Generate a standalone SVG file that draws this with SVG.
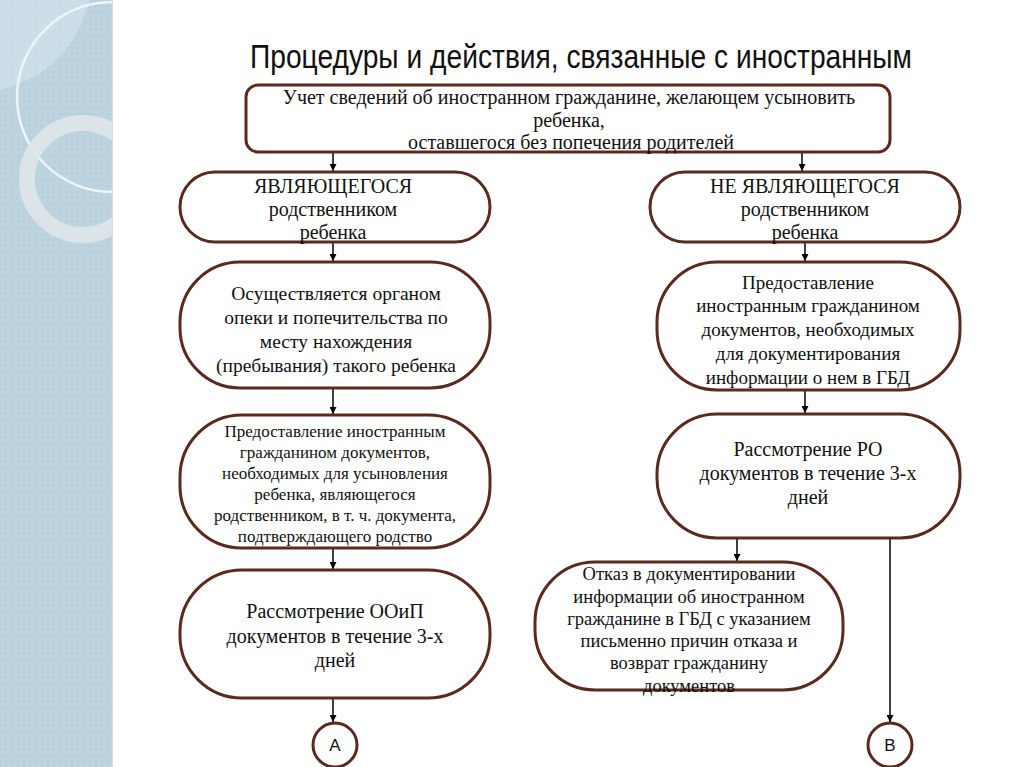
<svg xmlns="http://www.w3.org/2000/svg" width="1024" height="767" viewBox="0 0 1024 767">
<defs>
<style>
.node{fill:#fff;stroke:#5a2a1e;stroke-width:3}
.t{font-family:"Liberation Serif","Times New Roman",serif;fill:#111;text-anchor:middle}
.s{font-family:"Liberation Sans",Arial,sans-serif;fill:#111;text-anchor:middle}
.c{stroke:#000;stroke-width:1.5;fill:none;marker-end:url(#ah)}
</style>
<marker id="ah" viewBox="0 0 10 10" refX="10" refY="5" markerWidth="7" markerHeight="7" markerUnits="userSpaceOnUse" orient="auto"><path d="M0,0 L10,5 L0,10 Z" fill="#000"/></marker>
<clipPath id="panel"><rect x="0" y="0" width="112" height="767"/></clipPath>
<pattern id="dots" width="6" height="6" patternUnits="userSpaceOnUse"><circle cx="3" cy="3" r="1.6" fill="none" stroke="#c7dbe5" stroke-width="0.7"/></pattern>
</defs>
<rect width="1024" height="767" fill="#fff"/>
<g id="panel-bg" clip-path="url(#panel)">
<rect x="0" y="0" width="112" height="767" fill="#b8d1dd"/>
<rect x="0" y="0" width="112" height="767" fill="url(#dots)"/>
<path d="M0,0 L90,0 Q70,72 0,90 Z" fill="#fff" opacity="0.25"/>
<circle cx="112" cy="97" r="95" fill="none" stroke="#eef5f8" stroke-width="2.5"/>
<circle cx="83" cy="179" r="56" fill="none" stroke="#dfe6ea" stroke-width="16" opacity="0.9"/>
</g>
<line x1="112.5" y1="0" x2="112.5" y2="767" stroke="#d8dde0" stroke-width="1"/>
<text class="s" x="581" y="68" font-size="33" textLength="662" lengthAdjust="spacingAndGlyphs">Процедуры и действия, связанные с иностранным</text>
<g id="connectors">
<line class="c" x1="333" y1="152" x2="333" y2="171"/>
<line class="c" x1="802" y1="152" x2="802" y2="171"/>
<line class="c" x1="333" y1="242" x2="333" y2="261"/>
<line class="c" x1="805" y1="242" x2="805" y2="261"/>
<line class="c" x1="333" y1="388" x2="333" y2="414"/>
<line class="c" x1="805" y1="390" x2="805" y2="413"/>
<line class="c" x1="333" y1="548" x2="333" y2="569"/>
<line class="c" x1="333" y1="698" x2="333" y2="722"/>
<line class="c" x1="737" y1="538" x2="737" y2="561"/>
<line class="c" x1="890" y1="532" x2="890" y2="722"/>
</g>
<g id="top">
<rect class="node" x="246" y="85" width="644" height="67" rx="12"/>
<text class="t" font-size="20"><tspan x="569" y="104">Учет сведений об иностранном гражданине, желающем усыновить</tspan><tspan x="569" y="127">ребенка,</tspan><tspan x="571" y="149">оставшегося без попечения родителей</tspan></text>
</g>
<g id="a1">
<rect class="node" x="180" y="172" width="310" height="70" rx="35"/>
<text class="t" font-size="20"><tspan x="333" y="193">ЯВЛЯЮЩЕГОСЯ</tspan><tspan x="333" y="216">родственником</tspan><tspan x="333" y="239">ребенка</tspan></text>
</g>
<g id="b1">
<rect class="node" x="650" y="172" width="310" height="70" rx="35"/>
<text class="t" font-size="20"><tspan x="805" y="193">НЕ ЯВЛЯЮЩЕГОСЯ</tspan><tspan x="805" y="216">родственником</tspan><tspan x="805" y="239">ребенка</tspan></text>
</g>
<g id="a2">
<rect class="node" x="180" y="262" width="310" height="126" rx="60"/>
<text class="t" font-size="19.5"><tspan x="336" y="300">Осуществляется органом</tspan><tspan x="336" y="324">опеки и попечительства по</tspan><tspan x="336" y="348">месту нахождения</tspan><tspan x="336" y="372">(пребывания) такого ребенка</tspan></text>
</g>
<g id="b2">
<rect class="node" x="657" y="262" width="303" height="128" rx="60"/>
<text class="t" font-size="19"><tspan x="808" y="289">Предоставление</tspan><tspan x="808" y="312">иностранным гражданином</tspan><tspan x="808" y="336">документов, необходимых</tspan><tspan x="808" y="360">для документирования</tspan><tspan x="808" y="384">информации о нем в ГБД</tspan></text>
</g>
<g id="a3">
<rect class="node" x="180" y="415" width="310" height="133" rx="62"/>
<text class="t" font-size="17"><tspan x="335" y="437">Предоставление иностранным</tspan><tspan x="335" y="458">гражданином  документов,</tspan><tspan x="335" y="479">необходимых для усыновления</tspan><tspan x="335" y="500">ребенка, являющегося</tspan><tspan x="335" y="521">родственником, в т. ч. документа,</tspan><tspan x="335" y="542">подтверждающего родство</tspan></text>
</g>
<g id="b3">
<rect class="node" x="657" y="414" width="303" height="124" rx="60"/>
<text class="t" font-size="20"><tspan x="808" y="456">Рассмотрение РО</tspan><tspan x="808" y="480">документов в течение 3-х</tspan><tspan x="808" y="504">дней</tspan></text>
</g>
<g id="a4">
<rect class="node" x="180" y="570" width="310" height="128" rx="62"/>
<text class="t" font-size="20"><tspan x="335" y="618">Рассмотрение ООиП</tspan><tspan x="335" y="643">документов в течение 3-х</tspan><tspan x="335" y="667">дней</tspan></text>
</g>
<g id="c">
<rect class="node" x="535" y="562" width="308" height="128" rx="60"/>
<text class="t" font-size="18.5"><tspan x="689" y="580">Отказ в документировании</tspan><tspan x="689" y="603">информации об иностранном</tspan><tspan x="689" y="625">гражданине в ГБД с указанием</tspan><tspan x="689" y="647">письменно причин отказа и</tspan><tspan x="689" y="669">возврат гражданину</tspan><tspan x="689" y="692">документов</tspan></text>
</g>
<g id="ca">
<circle class="node" cx="335" cy="745" r="22"/>
<text class="s" x="335" y="751" font-size="17">A</text>
</g>
<g id="cb">
<circle class="node" cx="890" cy="745" r="22"/>
<text class="s" x="890" y="751" font-size="17">B</text>
</g>
</svg>
